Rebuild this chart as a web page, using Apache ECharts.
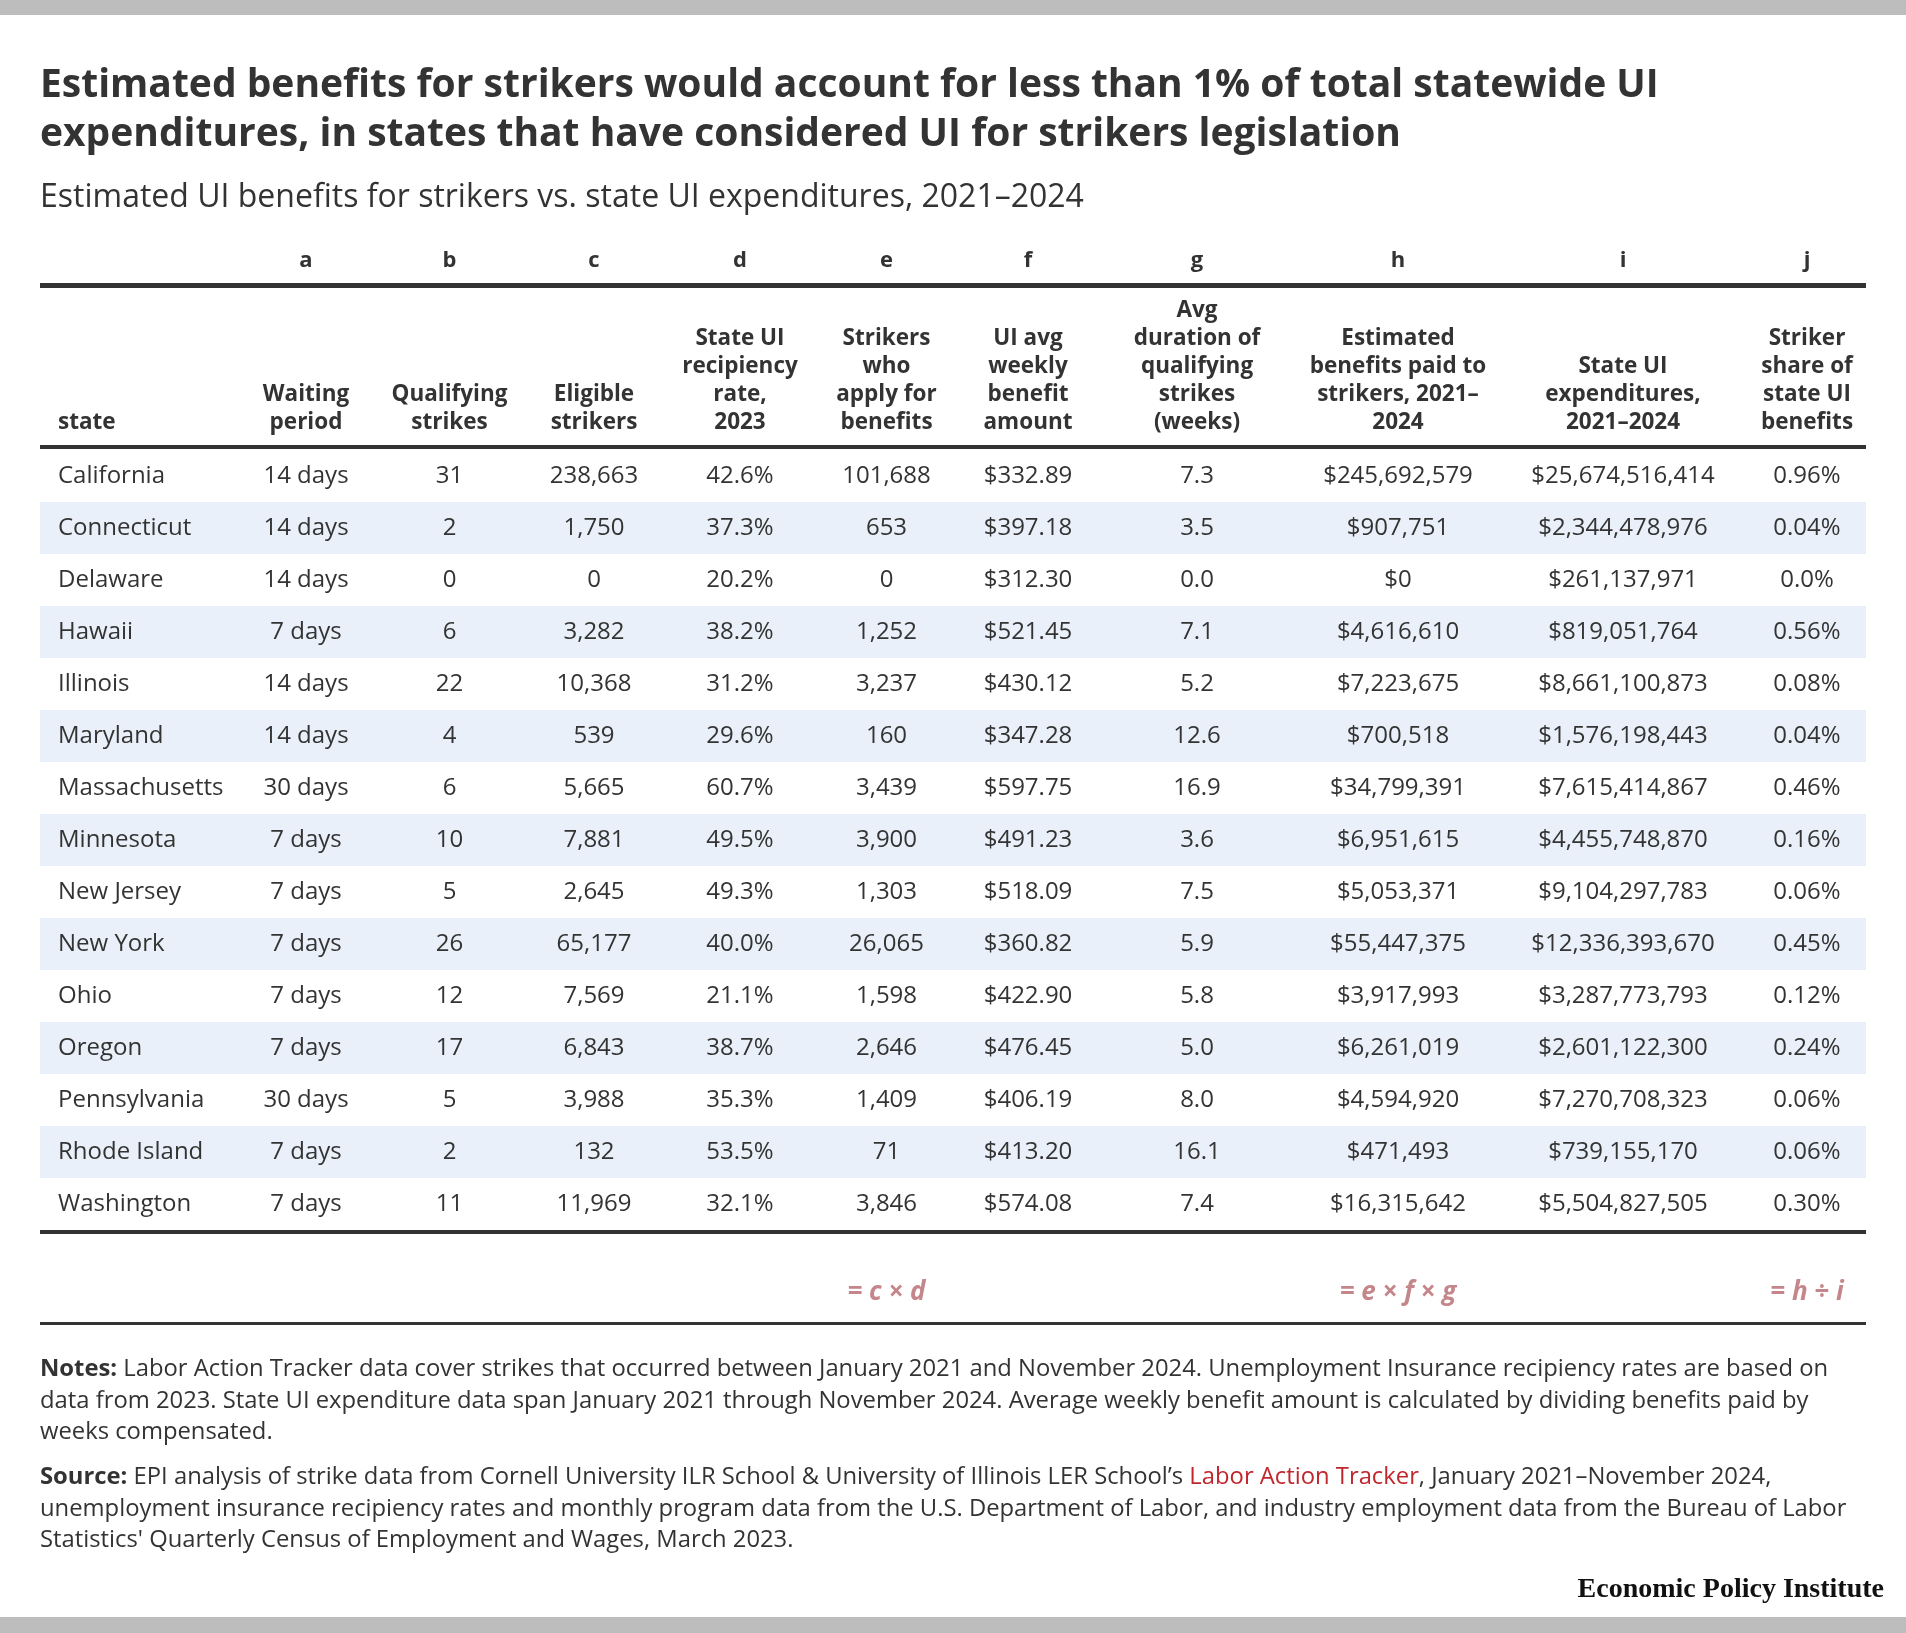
<!DOCTYPE html>
<html>
<head>
<meta charset="utf-8">
<script src="https://cdn.jsdelivr.net/npm/echarts@6/dist/echarts.min.js"></script>
<style>
html, body { margin: 0; padding: 0; background: #fff; }
#chart { width: 1906px; height: 1633px; }
</style>
</head>
<body>
<div id="chart"></div>
<script>
// table data
var states = ['California', 'Connecticut', 'Delaware', 'Hawaii', 'Illinois', 'Maryland', 'Massachusetts',
  'Minnesota', 'New Jersey', 'New York', 'Ohio', 'Oregon', 'Pennsylvania', 'Rhode Island', 'Washington'];
var waitingDays = [14, 14, 14, 7, 14, 14, 30, 7, 7, 7, 7, 7, 30, 7, 7];
var qualifyingStrikes = [31, 2, 0, 6, 22, 4, 6, 10, 5, 26, 12, 17, 5, 2, 11];
var eligibleStrikers = [238663, 1750, 0, 3282, 10368, 539, 5665, 7881, 2645, 65177, 7569, 6843, 3988, 132, 11969];
var recipiencyRate = [42.6, 37.3, 20.2, 38.2, 31.2, 29.6, 60.7, 49.5, 49.3, 40.0, 21.1, 38.7, 35.3, 53.5, 32.1];
var strikersApply = [101688, 653, 0, 1252, 3237, 160, 3439, 3900, 1303, 26065, 1598, 2646, 1409, 71, 3846];
var avgWeeklyBenefit = [332.89, 397.18, 312.30, 521.45, 430.12, 347.28, 597.75, 491.23, 518.09, 360.82, 422.90, 476.45, 406.19, 413.20, 574.08];
var avgDurationWeeks = [7.3, 3.5, 0.0, 7.1, 5.2, 12.6, 16.9, 3.6, 7.5, 5.9, 5.8, 5.0, 8.0, 16.1, 7.4];
var estBenefits = [245692579, 907751, 0, 4616610, 7223675, 700518, 34799391, 6951615, 5053371, 55447375, 3917993, 6261019, 4594920, 471493, 16315642];
var stateUIExp = [25674516414, 2344478976, 261137971, 819051764, 8661100873, 1576198443, 7615414867, 4455748870,
  9104297783, 12336393670, 3287773793, 2601122300, 7270708323, 739155170, 5504827505];
var strikerShare = [0.96, 0.04, 0.0, 0.56, 0.08, 0.04, 0.46, 0.16, 0.06, 0.45, 0.12, 0.24, 0.06, 0.06, 0.30];

var colLetters = ['', 'a', 'b', 'c', 'd', 'e', 'f', 'g', 'h', 'i', 'j'];
var colHeaders = ['state', 'Waiting\nperiod', 'Qualifying\nstrikes', 'Eligible\nstrikers', 'State UI\nrecipiency\nrate,\n2023',
  'Strikers\nwho\napply for\nbenefits', 'UI avg\nweekly\nbenefit\namount', 'Avg\nduration of\nqualifying\nstrikes\n(weeks)',
  'Estimated\nbenefits paid to\nstrikers, 2021–\n2024', 'State UI\nexpenditures,\n2021–2024', 'Striker\nshare of\nstate UI\nbenefits'];
var formulas = {5: '= c × d', 8: '= e × f × g', 10: '= h ÷ i'};

// layout (column widths of the table, px)
var FONT = 'Open Sans';
var TEXT = '#333333';
var tableLeft = 40;
var colWidths = [194, 144, 143, 146, 146, 147, 136, 202, 200, 250, 118];
var colStart = [];
var acc = 0;
for (var i = 0; i < colWidths.length; i++) {
  colStart.push(acc);
  acc += colWidths[i];
}
var tableWidth = acc;
function colCenter(c) {
  return colStart[c] + colWidths[c] / 2;
}

function num(v) { return v.toLocaleString('en-US'); }
function cellText(c, r) {
  switch (c) {
    case 0: return states[r];
    case 1: return waitingDays[r] + ' days';
    case 2: return String(qualifyingStrikes[r]);
    case 3: return num(eligibleStrikers[r]);
    case 4: return recipiencyRate[r].toFixed(1) + '%';
    case 5: return num(strikersApply[r]);
    case 6: return '$' + avgWeeklyBenefit[r].toFixed(2);
    case 7: return avgDurationWeeks[r].toFixed(1);
    case 8: return '$' + num(estBenefits[r]);
    case 9: return '$' + num(stateUIExp[r]);
    case 10: return strikerShare[r] === 0 ? '0.0%' : strikerShare[r].toFixed(2) + '%';
  }
}

var cellData = [];
for (var r = 0; r < states.length; r++) {
  for (var c = 0; c < colWidths.length; c++) {
    cellData.push([c, r]);
  }
}
var rowData = states.map(function (s, r) { return [0, r]; });

var chart = echarts.init(document.getElementById('chart'), null, { renderer: 'canvas' });

var graphics = [];
// grey bars top and bottom
graphics.push({ type: 'rect', shape: { x: 0, y: 0, width: 1906, height: 15 }, style: { fill: '#bdbdbd' } });
graphics.push({ type: 'rect', shape: { x: 0, y: 1617, width: 1906, height: 16 }, style: { fill: '#bdbdbd' } });
// title and subtitle
graphics.push({ type: 'text', x: 40, y: 86, style: {
  text: 'Estimated benefits for strikers would account for less than 1% of total statewide UI',
  fill: TEXT, fontFamily: FONT, fontWeight: 'bold', fontSize: 39, verticalAlign: 'middle' } });
graphics.push({ type: 'text', x: 40, y: 135, style: {
  text: 'expenditures, in states that have considered UI for strikers legislation',
  fill: TEXT, fontFamily: FONT, fontWeight: 'bold', fontSize: 39, verticalAlign: 'middle' } });
graphics.push({ type: 'text', x: 40, y: 198, style: {
  text: 'Estimated UI benefits for strikers vs. state UI expenditures, 2021–2024',
  fill: TEXT, fontFamily: FONT, fontSize: 32, verticalAlign: 'middle' } });

// column letters and headers
for (var c = 0; c < colWidths.length; c++) {
  var left = c === 0;
  var hx = tableLeft + (left ? colStart[c] + 18 : colCenter(c));
  if (colLetters[c]) {
    graphics.push({ type: 'text', x: hx, y: 261, style: {
      text: colLetters[c], fill: TEXT, fontFamily: FONT, fontWeight: 'bold', fontSize: 22,
      align: 'center', verticalAlign: 'middle' } });
  }
  graphics.push({ type: 'text', x: hx, y: 437, style: {
    text: colHeaders[c], fill: TEXT, fontFamily: FONT, fontWeight: 'bold', fontSize: 22.5, lineHeight: 28,
    align: left ? 'left' : 'center', verticalAlign: 'bottom' } });
  if (formulas[c]) {
    graphics.push({ type: 'text', x: hx, y: 1293, style: {
      text: formulas[c], fill: '#c4868a', fontFamily: FONT, fontWeight: 'bold', fontStyle: 'italic', fontSize: 26,
      align: 'center', verticalAlign: 'middle' } });
  }
}

// rules
[[283, 5], [445, 4], [1230, 4], [1322, 3]].forEach(function (l) {
  graphics.push({ type: 'rect', shape: { x: tableLeft, y: l[0], width: tableWidth, height: l[1] }, style: { fill: '#333333' } });
});

// notes and source
var NOTE_SIZE = 23.8;
var rich = {
  b: { fontFamily: FONT, fontSize: NOTE_SIZE, fontWeight: 'bold', fill: TEXT },
  n: { fontFamily: FONT, fontSize: NOTE_SIZE, fill: TEXT },
  red: { fontFamily: FONT, fontSize: NOTE_SIZE, fill: '#c0272d' }
};
var noteLines = [
  ['{b|Notes:}{n| Labor Action Tracker data cover strikes that occurred between January 2021 and November 2024. Unemployment Insurance recipiency rates are based on}', 1369],
  ['{n|data from 2023. State UI expenditure data span January 2021 through November 2024. Average weekly benefit amount is calculated by dividing benefits paid by}', 1401],
  ['{n|weeks compensated.}', 1432],
  ['{b|Source:}{n| EPI analysis of strike data from Cornell University ILR School & University of Illinois LER School’s }{red|Labor Action Tracker}{n|, January 2021–November 2024,}', 1477],
  ['{n|unemployment insurance recipiency rates and monthly program data from the U.S. Department of Labor, and industry employment data from the Bureau of Labor}', 1509],
  ['{n|Statistics\' Quarterly Census of Employment and Wages, March 2023.}', 1540]
];
noteLines.forEach(function (l) {
  graphics.push({ type: 'text', x: 40, y: l[1], style: {
    text: l[0], rich: rich, fill: TEXT, fontFamily: FONT, fontSize: NOTE_SIZE, verticalAlign: 'middle' } });
});
graphics.push({ type: 'text', x: 1884, y: 1590, style: {
  text: 'Economic Policy Institute', fill: '#111111', fontFamily: 'Liberation Serif', fontWeight: 'bold', fontSize: 28,
  align: 'right', verticalAlign: 'middle' } });

var option = {
  backgroundColor: '#ffffff',
  animation: false,
  grid: { left: tableLeft, width: tableWidth, top: 450, height: 52 * states.length },
  xAxis: { type: 'value', min: 0, max: tableWidth, show: false },
  yAxis: { type: 'category', data: states, inverse: true, show: false },
  graphic: graphics,
  series: [{
    type: 'custom',
    data: rowData,
    renderItem: function (params, api) {
      var r = api.value(1);
      if (r % 2 === 0) return null;
      var p0 = api.coord([0, r]);
      var p1 = api.coord([tableWidth, r]);
      var h = api.size([0, 1])[1];
      return { type: 'rect', shape: { x: p0[0], y: p0[1] - h / 2, width: p1[0] - p0[0], height: h },
        style: { fill: '#e9f0f9' } };
    },
    silent: true
  }, {
    type: 'custom',
    data: cellData,
    renderItem: function (params, api) {
      var c = api.value(0), r = api.value(1);
      var p = api.coord([c === 0 ? colStart[0] + 18 : colCenter(c), r]);
      return { type: 'text', x: p[0], y: p[1], style: {
        text: cellText(c, r), fill: TEXT, fontFamily: FONT, fontSize: 24,
        align: c === 0 ? 'left' : 'center', verticalAlign: 'middle' } };
    },
    silent: true
  }]
};
chart.setOption(option);
</script>
</body>
</html>
